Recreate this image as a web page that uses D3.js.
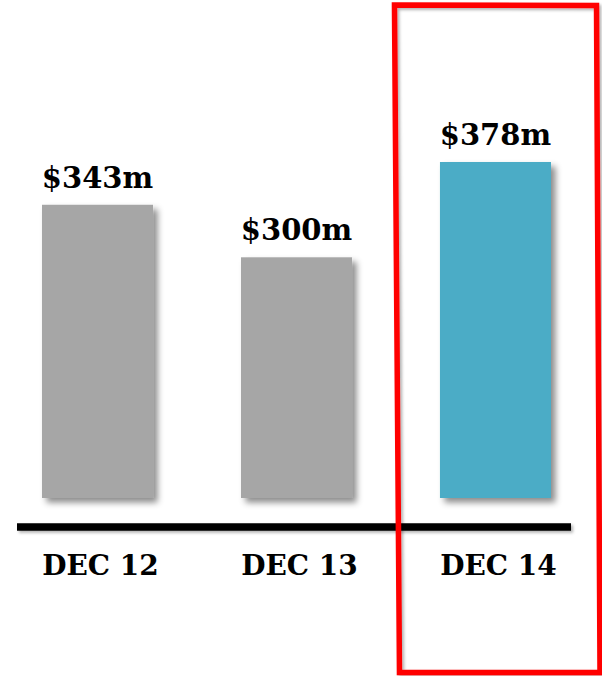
<!DOCTYPE html>
<html>
<head>
<meta charset="utf-8">
<script src="https://cdn.jsdelivr.net/npm/d3@7"></script>
<style>
  html, body { margin: 0; padding: 0; background: #fff; }
  svg { display: block; }
</style>
</head>
<body>
<svg id="chart" width="602" height="676"></svg>
<script>
const categories = ["DEC 12", "DEC 13", "DEC 14"];
const values = [343, 300, 378];
const valueLabels = ["$343m", "$300m", "$378m"];
const highlighted = "DEC 14";

const svg = d3.select("#chart");
const defs = svg.append("defs");
const f = defs.append("filter").attr("id", "shadow")
  .attr("x", "-20%").attr("y", "-20%").attr("width", "140%").attr("height", "140%");
f.append("feDropShadow").attr("dx", 4.5).attr("dy", 4.5).attr("stdDeviation", 3)
  .attr("flood-color", "#000").attr("flood-opacity", 0.45);
const f2 = defs.append("filter").attr("id", "shadowSoft")
  .attr("filterUnits", "userSpaceOnUse")
  .attr("x", 0).attr("y", 0).attr("width", 602).attr("height", 676);
f2.append("feDropShadow").attr("dx", 2).attr("dy", 2).attr("stdDeviation", 1.5)
  .attr("flood-color", "#000").attr("flood-opacity", 0.3);

const x = d3.scaleBand().domain(categories).range([42, 551]).paddingInner(0.442).paddingOuter(0);
const y = d3.scaleLinear().domain([103, 378]).range([498, 162]);

const serif = "'DejaVu Serif', Georgia, serif";

// bars
svg.append("g").selectAll("rect").data(categories).join("rect")
  .attr("x", d => x(d))
  .attr("y", (d, i) => y(values[i]))
  .attr("width", x.bandwidth())
  .attr("height", (d, i) => y.range()[0] - y(values[i]))
  .attr("fill", d => d === highlighted ? "#4BACC6" : "#A6A6A6")
  .attr("filter", "url(#shadow)");

// value labels
svg.append("g").selectAll("text").data(categories).join("text")
  .attr("x", d => x(d) + x.bandwidth() / 2)
  .attr("y", (d, i) => y(values[i]) - 17)
  .attr("text-anchor", "middle")
  .attr("font-family", serif)
  .attr("font-weight", "bold")
  .attr("font-size", 29)
  .attr("fill", "#000")
  .text((d, i) => valueLabels[i]);

// baseline
const axisY = 527;
svg.append("rect")
  .attr("x", 17).attr("width", 554).attr("y", axisY - 3.75).attr("height", 7.5)
  .attr("fill", "#000")
  .attr("filter", "url(#shadowSoft)");

// axis labels
const axis = d3.axisBottom(x).tickSize(0).tickPadding(0);
const ag = svg.append("g").attr("transform", `translate(0,${axisY})`).call(axis);
ag.select(".domain").remove();
ag.selectAll(".tick text")
  .attr("dx", 3)
  .attr("y", 48)
  .attr("dy", 0)
  .attr("font-family", serif)
  .attr("font-weight", "bold")
  .attr("font-size", 28)
  .attr("fill", "#000");

// highlight box around DEC 14
const hx = x(highlighted);
const box = [
  [hx - 45.5, 5],
  [hx + x.bandwidth() + 45.5, 5.5],
  [hx + x.bandwidth() + 49, 672.5],
  [hx - 40.5, 672.5]
];
svg.append("path")
  .attr("d", d3.line()(box) + "Z")
  .attr("fill", "none")
  .attr("stroke", "#FF0000")
  .attr("stroke-width", 5.5)
  .attr("stroke-linejoin", "miter")
  .attr("filter", "url(#shadowSoft)");
</script>
</body>
</html>
